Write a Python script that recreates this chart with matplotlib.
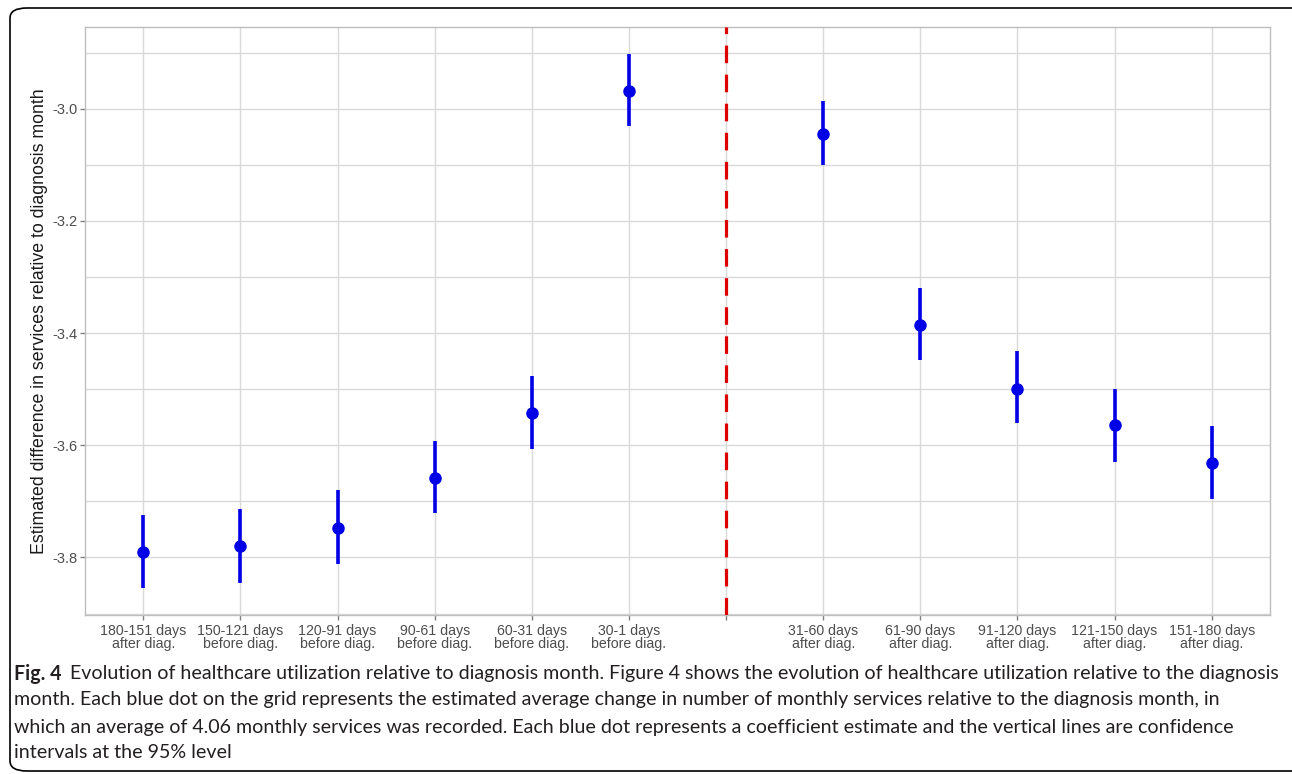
import numpy as np
import matplotlib
matplotlib.use("Agg")
import matplotlib.pyplot as plt
from matplotlib import font_manager
from matplotlib.patches import FancyBboxPatch
from matplotlib.ticker import MultipleLocator

# periods relative to the diagnosis month ('' = diagnosis month itself)
periods = ["180-151 days\nafter diag.", "150-121 days\nbefore diag.", "120-91 days\nbefore diag.",
           "90-61 days\nbefore diag.", "60-31 days\nbefore diag.", "30-1 days\nbefore diag.", "",
           "31-60 days\nafter diag.", "61-90 days\nafter diag.", "91-120 days\nafter diag.",
           "121-150 days\nafter diag.", "151-180 days\nafter diag."]

estimate = [-3.790, -3.779, -3.747, -3.658, -3.543, -2.968,
            -3.046, -3.386, -3.499, -3.564, -3.632]
ci_low = [-3.855, -3.845, -3.811, -3.721, -3.606, -3.030,
          -3.101, -3.448, -3.561, -3.629, -3.696]
ci_high = [-3.725, -3.713, -3.679, -3.593, -3.477, -2.902,
           -2.986, -3.320, -3.432, -3.500, -3.566]

caption_lines = [
    "Evolution of healthcare utilization relative to diagnosis month. Figure 4 shows the evolution of healthcare utilization relative to the diagnosis",
    "month. Each blue dot on the grid represents the estimated average change in number of monthly services relative to the diagnosis month, in",
    "which an average of 4.06 monthly services was recorded. Each blue dot represents a coefficient estimate and the vertical lines are confidence",
    "intervals at the 95% level",
]

plt.rcParams["font.family"] = ["Liberation Sans", "DejaVu Sans"]

# narrow face for the caption if there is one
try:
    font_manager.findfont("Liberation Sans Narrow", fallback_to_default=False)
    cap_font = ["Liberation Sans Narrow", "DejaVu Sans"]
except ValueError:
    cap_font = ["Lato", "DejaVu Sans"]

W, H = 1292, 774
fig = plt.figure(figsize=(W / 100, H / 100), dpi=100)
ax = fig.add_axes([85 / W, 1 - 615 / H, (1270 - 85) / W, (615 - 27) / H])

xpos = np.arange(1, len(periods) + 1)
xdat = np.array([x for x, p in zip(xpos, periods) if p != ""])
diag_x = [x for x, p in zip(xpos, periods) if p == ""][0]

ax.vlines(xdat, ci_low, ci_high, color="#0000E6", lw=2.6, zorder=3)
ax.plot(xdat, estimate, "o", color="#0000E6", ms=8, zorder=4)
ax.axvline(diag_x, color="#DD0000", lw=2.3, ls=(0, (5.5, 3.6)), zorder=5)

# ggplot-like expansion
lo, hi = min(ci_low), max(ci_high)
pad = 0.05 * (hi - lo)
ax.set_ylim(lo - pad, hi + pad)
ax.set_xlim(0.4, len(periods) + 0.6)

ax.set_xticks(xpos)
ax.set_xticklabels(periods, fontsize=10.2, color="#4D4D4D", linespacing=0.95)
ax.yaxis.set_major_locator(MultipleLocator(0.2))
ax.yaxis.set_minor_locator(MultipleLocator(0.1))
ax.yaxis.set_major_formatter(lambda v, p: f"{v:.1f}")
ax.tick_params(axis="y", labelsize=10.5, labelcolor="#4D4D4D", pad=2)
ax.tick_params(axis="x", pad=3)
ax.tick_params(which="major", length=3.5, color="#808080", width=1.0)
ax.tick_params(axis="y", which="minor", length=0)

ax.grid(True, which="both", color="#D9D9D9", lw=1.0)
ax.set_axisbelow(True)
for s in ax.spines.values():
    s.set_color("#BDBDBD")
    s.set_linewidth(1.0)

ax.set_ylabel("Estimated difference in services relative to diagnosis month",
              fontsize=12.8, color="#1A1A1A")
ax.yaxis.label.set_va("center")
ax.yaxis.set_label_coords((40 - 85) / 1185, 0.5)

# caption
ys = [674, 700, 727, 753]
fig_lbl = fig.text(14 / W, 1 - ys[0] / H, "Fig. 4", fontsize=14, fontweight="bold",
                   va="center", ha="left", color="#231F20", family=cap_font)
texts = []
for i, (line, y) in enumerate(zip(caption_lines, ys)):
    texts.append(fig.text(14 / W, 1 - y / H, line, fontsize=14, va="center",
                          ha="left", color="#231F20", family=cap_font))

# fit the first caption line (after the bold label) to end where it does in the print
r = fig.canvas.get_renderer()
size = 14.0
for _ in range(3):
    fig_lbl.set_fontsize(size)
    x0 = fig_lbl.get_window_extent(r).x1 + 9
    texts[0].set_x(x0 / W)
    for t in texts:
        t.set_fontsize(size)
    w = texts[0].get_window_extent(r).width
    size = size * (1282 - x0) / w

# rounded frame around the whole figure
frame = FancyBboxPatch((10 / W, 3 / H), 1300 / W, 763 / H,
                       boxstyle="round,pad=0,rounding_size=0.013",
                       transform=fig.transFigure, fill=False, ec="black", lw=1.2)
fig.patches.append(frame)

fig.savefig("out.png", dpi=100)
